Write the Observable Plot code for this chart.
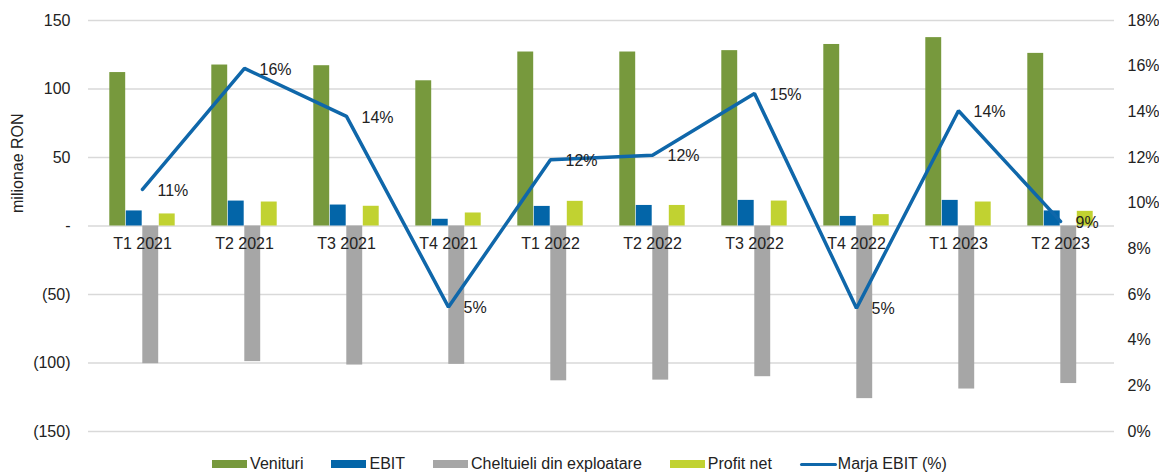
<!DOCTYPE html>
<html><head><meta charset="utf-8">
<script src="https://cdn.jsdelivr.net/npm/d3@7"></script>
<script src="https://cdn.jsdelivr.net/npm/@observablehq/plot@0.6"></script>
<style>
body{margin:0;background:#fff;font-family:"Liberation Sans",Arial,sans-serif;}
#legend{display:flex;justify-content:center;align-items:center;height:18px;padding-top:10px;font-size:16px;color:#222;padding-left:28px}
.item{display:flex;align-items:center;margin-right:28px;line-height:18px}
.sw{display:inline-block;width:35px;height:8px;margin-right:3px}
.ln{display:inline-block;width:37px;height:3px;margin-right:1px;border-radius:2px}
</style></head><body><div id="chart"></div><div id="legend"></div>
<script>
const quarters = ["T1 2021","T2 2021","T3 2021","T4 2021","T1 2022","T2 2022","T3 2022","T4 2022","T1 2023","T2 2023"];
const venituri = [112, 117.5, 117, 106, 127, 127, 128, 132.5, 137.5, 126];
const ebit = [11, 18.2, 15.3, 4.9, 14.3, 15, 18.7, 7, 18.7, 11];
const cheltuieli = [-100.5, -99, -101.5, -101, -113, -112.5, -110, -126, -119, -115];
const profitNet = [8.8, 17.5, 14.4, 9.5, 18, 15, 18.2, 8.3, 17.5, 10.7];
const marjaEbit = [10.6, 15.9, 13.8, 5.45, 11.9, 12.1, 14.8, 5.4, 14.05, 9.2];
const marjaLabels = ["11%","16%","14%","5%","12%","12%","15%","5%","14%","9%"];
const leftTicks = [-150, -100, -50, 0, 50, 100, 150];
const rightTicks = [0, 2, 4, 6, 8, 10, 12, 14, 16, 18];

const seriesNames = ["Venituri", "EBIT", "Cheltuieli din exploatare", "Profit net"];
const seriesValues = [venituri, ebit, cheltuieli, profitNet];
const colors = ["#77993D", "#0365A8", "#A6A6A6", "#C1D231"];
const lineColor = "#0F67AA";

const W = 1159, H = 445, ML = 88, MR = 45, MT = 20, MB = 14;
const bw = (W - ML - MR) / quarters.length;
const barW = 16.5;

const toLeft = p => -150 + p / 18 * 300;
const data = quarters.map((q, i) => ({q, marja: marjaEbit[i], label: marjaLabels[i]}));

const fmtLeft = v => v === 0 ? "-" : v < 0 ? `(${-v})` : `${v}`;

const barMarks = seriesValues.map((vals, i) => {
  const il = bw / 2 - 2 * barW + i * barW;
  return Plot.barY(quarters, {x: d => d, y: (d, j) => vals[j], fill: colors[i],
    insetLeft: il, insetRight: bw - il - barW});
});

const chart = Plot.plot({
  width: W, height: H, marginLeft: ML, marginRight: MR, marginTop: MT, marginBottom: MB,
  style: {fontFamily: "'Liberation Sans', Arial, sans-serif", fontSize: "16px", color: "#222"},
  x: {type: "band", domain: quarters, padding: 0, axis: null},
  y: {domain: [-150, 150], axis: null},
  marks: [
    Plot.ruleY(leftTicks, {stroke: "#D9D9D9", strokeWidth: 1.3}),
    Plot.axisY({ticks: leftTicks, tickFormat: fmtLeft, tickSize: 0, tickPadding: 18, label: null, fontSize: 16}),
    Plot.axisY({anchor: "right", ticks: rightTicks.map(toLeft), tickFormat: v => Math.round((v + 150) / 300 * 18) + "%", tickSize: 0, tickPadding: 13, label: null, fontSize: 16}),
    Plot.text(["milionae RON"], {frameAnchor: "left", dx: -71, dy: -13, rotate: -90, fontSize: 16, fill: "#222"}),
    ...barMarks,
    Plot.text(quarters, {x: d => d, y: 0, dy: 18, fontSize: 16, fill: "#222"}),
    Plot.line(data, {x: "q", y: d => toLeft(d.marja), stroke: lineColor, strokeWidth: 3.5, strokeLinejoin: "miter", curve: "linear"}),
    Plot.text(data, {x: "q", y: d => toLeft(d.marja), text: "label", dx: 15, dy: 1, textAnchor: "start", fontSize: 16, fill: "#222"})
  ]
});
document.getElementById("chart").appendChild(chart);

const legend = document.getElementById("legend");
seriesNames.forEach((n, i) => {
  const it = document.createElement("div"); it.className = "item";
  it.innerHTML = `<span class="sw" style="background:${colors[i]}"></span>${n}`;
  legend.appendChild(it);
});
const it = document.createElement("div"); it.className = "item";
it.innerHTML = `<span class="ln" style="background:${lineColor}"></span>Marja EBIT (%)`;
legend.appendChild(it);
</script>
</body></html>
